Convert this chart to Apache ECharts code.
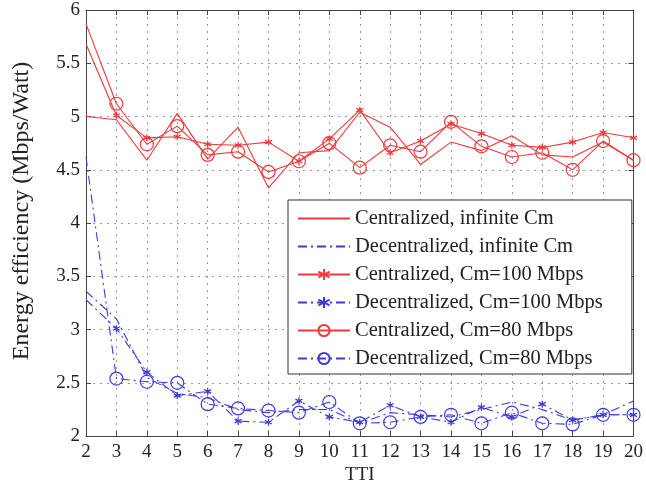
<!DOCTYPE html>
<html>
<head>
<meta charset="utf-8">
<script src="https://cdn.jsdelivr.net/npm/echarts@6/dist/echarts.min.js"></script>
<style>
html,body{margin:0;padding:0;background:#fff;}
#chart{width:646px;height:490px;}
</style>
</head>
<body>
<div id="chart"></div>
<script>
const tti = [2,3,4,5,6,7,8,9,10,11,12,13,14,15,16,17,18,19,20];
const centInf   = [5.00,4.97,4.59,5.03,4.60,4.90,4.33,4.66,4.68,5.04,4.90,4.55,4.76,4.68,4.82,4.64,4.62,4.76,4.59];
const decentInf = [3.36,3.10,2.55,2.40,2.36,2.25,2.22,2.25,2.25,2.12,2.22,2.20,2.18,2.25,2.32,2.25,2.15,2.20,2.33];
const cent100   = [5.68,5.01,4.80,4.81,4.74,4.73,4.76,4.58,4.79,5.06,4.66,4.77,4.93,4.84,4.73,4.71,4.76,4.85,4.80];
const decent100 = [3.28,3.01,2.60,2.38,2.42,2.14,2.13,2.33,2.18,2.13,2.29,2.18,2.13,2.27,2.18,2.30,2.15,2.20,2.20];
const cent80    = [5.87,5.12,4.74,4.91,4.64,4.67,4.48,4.58,4.75,4.52,4.73,4.67,4.95,4.72,4.62,4.66,4.50,4.77,4.59];
const decent80  = [4.62,2.54,2.51,2.50,2.30,2.26,2.24,2.22,2.32,2.12,2.13,2.18,2.20,2.12,2.22,2.12,2.11,2.20,2.20];
const names = [
  'Centralized, infinite Cm',
  'Decentralized, infinite Cm',
  'Centralized, Cm=100 Mbps',
  'Decentralized, Cm=100 Mbps',
  'Centralized, Cm=80 Mbps',
  'Decentralized, Cm=80 Mbps'
];
const yName = 'Energy efficiency (Mbps/Watt)';
const xName = 'TTI';

const RED = '#ee3a3a';
const BLUE = '#3c3cdc';
const SERIF = '"Liberation Serif","Times New Roman",serif';
const DASHDOT = [9,4,2,4];
const STAR = 'path://M0,-5L0,5M-4.33,-2.5L4.33,2.5M-4.33,2.5L4.33,-2.5';

function pts(arr, hideFirst){
  return tti.map((x,i)=> (hideFirst && i === 0) ? {value:[x, arr[i]], symbol:'none'} : [x, arr[i]]);
}

function mk(name, arr, color, dashed, marker){
  const s = {
    name: name, type: 'line', data: pts(arr, !!marker),
    lineStyle: {color: color, width: 1.1, type: dashed ? DASHDOT : 'solid'},
    itemStyle: {color: color},
    symbol: 'none', symbolSize: 8,
    animation: false, z: 3
  };
  if (marker === 'star') {
    s.symbol = STAR; s.symbolSize = 7;
    s.itemStyle = {color: color, borderColor: color, borderWidth: 1.3};
  } else if (marker === 'circle') {
    s.symbol = 'circle'; s.symbolSize = 13;
    s.itemStyle = {color: 'rgba(0,0,0,0)', borderColor: color, borderWidth: 1.2};
  }
  return s;
}

const legendData = names.map((n, i) => (i < 2)
  ? {name: n, itemStyle: {color: 'rgba(0,0,0,0)', borderColor: 'rgba(0,0,0,0)', borderWidth: 0}}
  : {name: n});

const chart = echarts.init(document.getElementById('chart'), null, {renderer: 'canvas'});
const axisLineStyle = {color: '#444', width: 1};
chart.setOption({
  animation: false,
  backgroundColor: '#fff',
  grid: {left: 86, right: 10, top: 10, bottom: 52, containLabel: false},
  graphic: [{
    type: 'text', rotation: Math.PI/2,
    x: 22, y: 211,
    style: {text: yName, font: '24px ' + SERIF, fill: '#222', align: 'center', verticalAlign: 'middle'}
  }],
  xAxis: [{
    type: 'value', min: 2, max: 20, interval: 1,
    name: xName, nameLocation: 'middle', nameGap: 21,
    nameTextStyle: {fontFamily: SERIF, fontSize: 19, color: '#222'},
    axisLine: {show: true, lineStyle: axisLineStyle},
    axisTick: {show: true, inside: true, length: 5, lineStyle: axisLineStyle},
    axisLabel: {fontFamily: SERIF, fontSize: 19, color: '#222', margin: 6},
    splitLine: {show: true, lineStyle: {color: '#9a9a9a', type: [2,5], width: 1}}
  },{
    type: 'value', min: 2, max: 20, interval: 1, position: 'top',
    axisLine: {show: true, onZero: false, lineStyle: axisLineStyle},
    axisTick: {show: true, inside: true, length: 5, lineStyle: axisLineStyle},
    axisLabel: {show: false}, splitLine: {show: false}
  }],
  yAxis: [{
    type: 'value', min: 2, max: 6, interval: 0.5,
    axisLine: {show: true, lineStyle: axisLineStyle},
    axisTick: {show: true, inside: true, length: 5, lineStyle: axisLineStyle},
    axisLabel: {fontFamily: SERIF, fontSize: 19, color: '#222', margin: 6,
      formatter: v => String(v)},
    splitLine: {show: true, lineStyle: {color: '#9a9a9a', type: [2,5], width: 1}}
  },{
    type: 'value', min: 2, max: 6, interval: 0.5, position: 'right',
    axisLine: {show: true, onZero: false, lineStyle: axisLineStyle},
    axisTick: {show: true, inside: true, length: 5, lineStyle: axisLineStyle},
    axisLabel: {show: false}, splitLine: {show: false}
  }],
  legend: {
    orient: 'vertical', left: 288, top: 200,
    backgroundColor: '#fff', borderColor: '#333', borderWidth: 1,
    padding: [8, 29, 5, 9], itemGap: 7,
    itemWidth: 52, itemHeight: 14,
    textStyle: {fontFamily: SERIF, fontSize: 20.5, lineHeight: 18, color: '#222'},
    data: legendData
  },
  series: [
    mk(names[0], centInf, RED, false, null),
    mk(names[1], decentInf, BLUE, true, null),
    mk(names[2], cent100, RED, false, 'star'),
    mk(names[3], decent100, BLUE, true, 'star'),
    mk(names[4], cent80, RED, false, 'circle'),
    mk(names[5], decent80, BLUE, true, 'circle')
  ]
});
</script>
</body>
</html>
